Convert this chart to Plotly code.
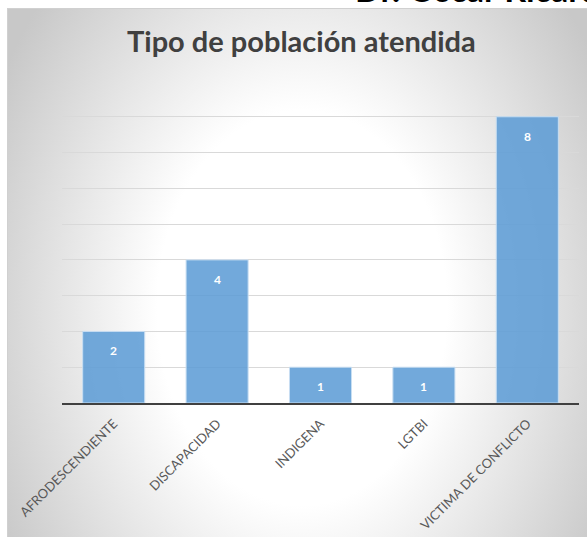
import base64
import plotly.graph_objects as go

categories = ["AFRODESCENDIENTE", "DISCAPACIDAD", "INDIGENA", "LGTBI", "VICTIMA DE CONFLICTO"]
values = [2, 4, 1, 1, 8]
title_text = "Tipo de población atendida"
header_text = "Dr. Oscar Ricardo"

W, H = 587, 537
L, R, T, B = 62, 8, 81, 134
pw, ph = W - L - R, H - T - B

def px_x(px):
    return (px - L) / pw

def px_y(py):
    return (H - B - py) / ph

# background gradient (chart area) as inline svg
bx0, by0 = 7, 8
bw, bh = 582, 531
svg = f'''<svg xmlns="http://www.w3.org/2000/svg" width="{bw}" height="{bh}" viewBox="0 0 {bw} {bh}" preserveAspectRatio="none">
<defs><radialGradient id="g" cx="0" cy="0" r="1" gradientUnits="userSpaceOnUse" gradientTransform="translate(295,300) scale(345,470)">
<stop offset="0" stop-color="#ffffff"/><stop offset="0.42" stop-color="#ffffff"/><stop offset="1" stop-color="#c8c8c8"/></radialGradient></defs>
<rect x="0.5" y="0.5" width="{bw}" height="{bh}" fill="url(#g)" stroke="#d0d0d0" stroke-width="1"/>
</svg>'''
src = "data:image/svg+xml;base64," + base64.b64encode(svg.encode()).decode()

fig = go.Figure()
fig.add_trace(go.Bar(
    x=categories, y=values,
    marker=dict(color="rgba(91,155,213,0.86)", line=dict(color="rgba(200,222,242,1)", width=1)),
    width=0.6, hoverinfo="skip",
))

annotations = []
for c, v in zip(categories, values):
    annotations.append(dict(x=c, y=v, xref="x", yref="y", text=f"<b>{v}</b>", showarrow=False,
                            yanchor="top", yshift=-10,
                            font=dict(family="Lato, Carlito, sans-serif", size=12, color="white")))
annotations.append(dict(x=px_x(301), y=px_y(41), xref="paper", yref="paper", text=f"<b>{title_text}</b>",
                        showarrow=False, xanchor="center", yanchor="middle",
                        font=dict(family="Lato, Carlito, sans-serif", size=29, color="#404040")))
annotations.append(dict(x=px_x(353), y=px_y(11), xref="paper", yref="paper", text=f"<b>{header_text}</b>",
                        showarrow=False, xanchor="left", yanchor="bottom",
                        font=dict(family="Lato, Carlito, sans-serif", size=34, color="#000000")))

fig.update_layout(
    width=W, height=H,
    margin=dict(l=L, r=R, t=T, b=B, pad=0, autoexpand=False),
    paper_bgcolor="white", plot_bgcolor="rgba(0,0,0,0)",
    showlegend=False,
    bargap=0.4,
    annotations=annotations,
    images=[dict(source=src, xref="paper", yref="paper", x=px_x(bx0), y=px_y(by0),
                 sizex=bw / pw, sizey=bh / ph, xanchor="left", yanchor="top",
                 sizing="stretch", layer="below")],
    xaxis=dict(showline=True, linecolor="#404040", linewidth=2, tickangle=-45,
               ticks="", showgrid=False, ticklabelstandoff=6, automargin=False,
               tickfont=dict(family="Lato, Carlito, sans-serif", size=13, color="#595959")),
    yaxis=dict(range=[0, 9], dtick=1, showgrid=True, gridcolor="#d9d9d9", gridwidth=1,
               showticklabels=False, zeroline=False, ticks="", automargin=False),
)

fig.write_html("out.html", config={"displayModeBar": False},
               post_script="document.body.style.margin='0';document.body.style.overflow='hidden';")
